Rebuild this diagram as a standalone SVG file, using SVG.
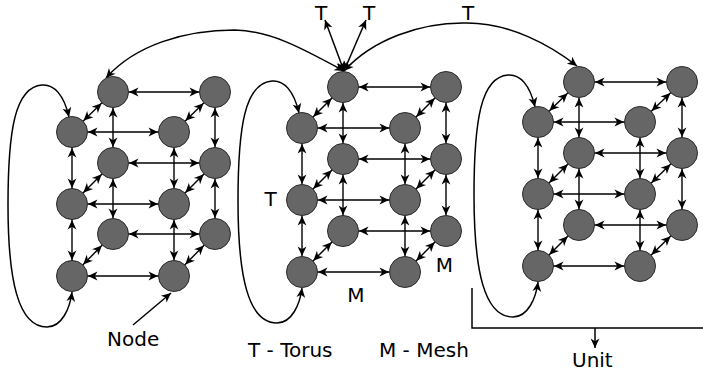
<svg xmlns="http://www.w3.org/2000/svg" width="703" height="371" viewBox="0 0 703 371">
<style>
.n circle{fill:#666666;stroke:#2a2a2a;stroke-width:1}
.e line{stroke:#000;stroke-width:1.4;marker-start:url(#a);marker-end:url(#a)}
.c{fill:none;stroke:#000;stroke-width:1.5}
.d{marker-start:url(#b);marker-end:url(#b)}
.s{marker-end:url(#b)}
text{font-family:"DejaVu Sans","Liberation Sans",sans-serif;font-size:20px;fill:#000}
</style>
<defs>
<marker id="a" markerUnits="userSpaceOnUse" markerWidth="40" markerHeight="10" refX="36" refY="5" orient="auto-start-reverse"><path d="M20,5 L10.5,0.6 L13.2,5 L10.5,9.4 Z" fill="#000"/></marker>
<marker id="b" markerUnits="userSpaceOnUse" markerWidth="24" markerHeight="10" refX="20" refY="5" orient="auto-start-reverse"><path d="M20,5 L10.5,0.6 L13.2,5 L10.5,9.4 Z" fill="#000"/></marker>
</defs>
<g id="connectors">
<g class="e">
<line x1="72" y1="132" x2="174" y2="132"/><line x1="72" y1="204" x2="174" y2="204"/><line x1="72" y1="276" x2="174" y2="276"/>
<line x1="113" y1="92" x2="215" y2="92"/><line x1="113" y1="163" x2="215" y2="163"/><line x1="113" y1="234" x2="215" y2="234"/>
<line x1="72" y1="132" x2="72" y2="204"/><line x1="72" y1="204" x2="72" y2="276"/>
<line x1="174" y1="132" x2="174" y2="204"/><line x1="174" y1="204" x2="174" y2="276"/>
<line x1="113" y1="92" x2="113" y2="163"/><line x1="113" y1="163" x2="113" y2="234"/>
<line x1="215" y1="92" x2="215" y2="163"/><line x1="215" y1="163" x2="215" y2="234"/>
<line x1="72" y1="132" x2="113" y2="92"/><line x1="174" y1="132" x2="215" y2="92"/>
<line x1="72" y1="204" x2="113" y2="163"/><line x1="174" y1="204" x2="215" y2="163"/>
<line x1="72" y1="276" x2="113" y2="234"/><line x1="174" y1="276" x2="215" y2="234"/>

<line x1="302" y1="128" x2="405" y2="128"/><line x1="302" y1="200" x2="405" y2="200"/><line x1="302" y1="272" x2="405" y2="272"/>
<line x1="343" y1="87" x2="446" y2="87"/><line x1="343" y1="159" x2="446" y2="159"/><line x1="343" y1="231" x2="446" y2="231"/>
<line x1="302" y1="128" x2="302" y2="200"/><line x1="302" y1="200" x2="302" y2="272"/>
<line x1="405" y1="128" x2="405" y2="200"/><line x1="405" y1="200" x2="405" y2="272"/>
<line x1="343" y1="87" x2="343" y2="159"/><line x1="343" y1="159" x2="343" y2="231"/>
<line x1="446" y1="87" x2="446" y2="159"/><line x1="446" y1="159" x2="446" y2="231"/>
<line x1="302" y1="128" x2="343" y2="87"/><line x1="405" y1="128" x2="446" y2="87"/>
<line x1="302" y1="200" x2="343" y2="159"/><line x1="405" y1="200" x2="446" y2="159"/>
<line x1="302" y1="272" x2="343" y2="231"/><line x1="405" y1="272" x2="446" y2="231"/>

<line x1="538" y1="122" x2="640" y2="122"/><line x1="538" y1="194" x2="640" y2="194"/><line x1="538" y1="266" x2="640" y2="266"/>
<line x1="579" y1="82" x2="682" y2="82"/><line x1="579" y1="153" x2="682" y2="153"/><line x1="579" y1="225" x2="682" y2="225"/>
<line x1="538" y1="122" x2="538" y2="194"/><line x1="538" y1="194" x2="538" y2="266"/>
<line x1="640" y1="122" x2="640" y2="194"/><line x1="640" y1="194" x2="640" y2="266"/>
<line x1="579" y1="82" x2="579" y2="153"/><line x1="579" y1="153" x2="579" y2="225"/>
<line x1="682" y1="82" x2="682" y2="153"/><line x1="682" y1="153" x2="682" y2="225"/>
<line x1="538" y1="122" x2="579" y2="82"/><line x1="640" y1="122" x2="682" y2="82"/>
<line x1="538" y1="194" x2="579" y2="153"/><line x1="640" y1="194" x2="682" y2="153"/>
<line x1="538" y1="266" x2="579" y2="225"/><line x1="640" y1="266" x2="682" y2="225"/>
</g>
<path class="c d" d="M69,117 C64,95 54,84 42,85 C15,87 8,130 8,205 C8,280 18,327 47,327 C62,327 70,308 72,292"/>
<path class="c d" d="M299,113 C294,91 284,80 272,81 C245,83 238,126 238,201 C238,276 248,323 277,323 C292,323 300,304 302,288"/>
<path class="c d" d="M535,107 C530,85 520,74 508,75 C481,77 474,120 474,195 C474,270 484,317 513,317 C528,317 536,298 538,282"/>
<path class="c d" d="M106,78 C135,45 185,30 235,30 C270,31 300,47 344,71"/>
<path class="c d" d="M344,71 C372,40 420,22 467,23 C510,23 550,45 577,66"/>
<path class="c d" d="M344,71 L325,20"/>
<path class="c d" d="M344,71 L366,20"/>
<path class="c s" d="M133,325 L171,293"/>
<path class="c" d="M472,288 V328 H703"/>
<path class="c s" d="M595,328 V348"/>
</g>
<g class="n">
<g id="c1-btl"><circle cx="113" cy="92" r="15.5"/></g>
<g id="c1-btr"><circle cx="215" cy="92" r="15.5"/></g>
<g id="c1-bml"><circle cx="113" cy="163" r="15.5"/></g>
<g id="c1-bmr"><circle cx="215" cy="163" r="15.5"/></g>
<g id="c1-bbl"><circle cx="113" cy="234" r="15.5"/></g>
<g id="c1-bbr"><circle cx="215" cy="234" r="15.5"/></g>
<g id="c1-ftl"><circle cx="72" cy="132" r="15.5"/></g>
<g id="c1-ftr"><circle cx="174" cy="132" r="15.5"/></g>
<g id="c1-fml"><circle cx="72" cy="204" r="15.5"/></g>
<g id="c1-fmr"><circle cx="174" cy="204" r="15.5"/></g>
<g id="c1-fbl"><circle cx="72" cy="276" r="15.5"/></g>
<g id="c1-fbr"><circle cx="174" cy="276" r="15.5"/></g>

<g id="c2-btl"><circle cx="343" cy="87" r="15.5"/></g>
<g id="c2-btr"><circle cx="446" cy="87" r="15.5"/></g>
<g id="c2-bml"><circle cx="343" cy="159" r="15.5"/></g>
<g id="c2-bmr"><circle cx="446" cy="159" r="15.5"/></g>
<g id="c2-bbl"><circle cx="343" cy="231" r="15.5"/></g>
<g id="c2-bbr"><circle cx="446" cy="231" r="15.5"/></g>
<g id="c2-ftl"><circle cx="302" cy="128" r="15.5"/></g>
<g id="c2-ftr"><circle cx="405" cy="128" r="15.5"/></g>
<g id="c2-fml"><circle cx="302" cy="200" r="15.5"/></g>
<g id="c2-fmr"><circle cx="405" cy="200" r="15.5"/></g>
<g id="c2-fbl"><circle cx="302" cy="272" r="15.5"/></g>
<g id="c2-fbr"><circle cx="405" cy="272" r="15.5"/></g>

<g id="c3-btl"><circle cx="579" cy="82" r="15.5"/></g>
<g id="c3-btr"><circle cx="682" cy="82" r="15.5"/></g>
<g id="c3-bml"><circle cx="579" cy="153" r="15.5"/></g>
<g id="c3-bmr"><circle cx="682" cy="153" r="15.5"/></g>
<g id="c3-bbl"><circle cx="579" cy="225" r="15.5"/></g>
<g id="c3-bbr"><circle cx="682" cy="225" r="15.5"/></g>
<g id="c3-ftl"><circle cx="538" cy="122" r="15.5"/></g>
<g id="c3-ftr"><circle cx="640" cy="122" r="15.5"/></g>
<g id="c3-fml"><circle cx="538" cy="194" r="15.5"/></g>
<g id="c3-fmr"><circle cx="640" cy="194" r="15.5"/></g>
<g id="c3-fbl"><circle cx="538" cy="266" r="15.5"/></g>
<g id="c3-fbr"><circle cx="640" cy="266" r="15.5"/></g>
</g>
<g id="labels">
<text x="321" y="20" text-anchor="middle">T</text>
<text x="369" y="20" text-anchor="middle">T</text>
<text x="468" y="20" text-anchor="middle">T</text>
<text x="270.5" y="206" text-anchor="middle">T</text>
<text x="444.5" y="272" text-anchor="middle">M</text>
<text x="356" y="302" text-anchor="middle">M</text>
<text x="107" y="346">Node</text>
<text x="248" y="357">T - Torus</text>
<text x="379" y="357">M - Mesh</text>
<text x="572" y="367">Unit</text>
</g>
</svg>
